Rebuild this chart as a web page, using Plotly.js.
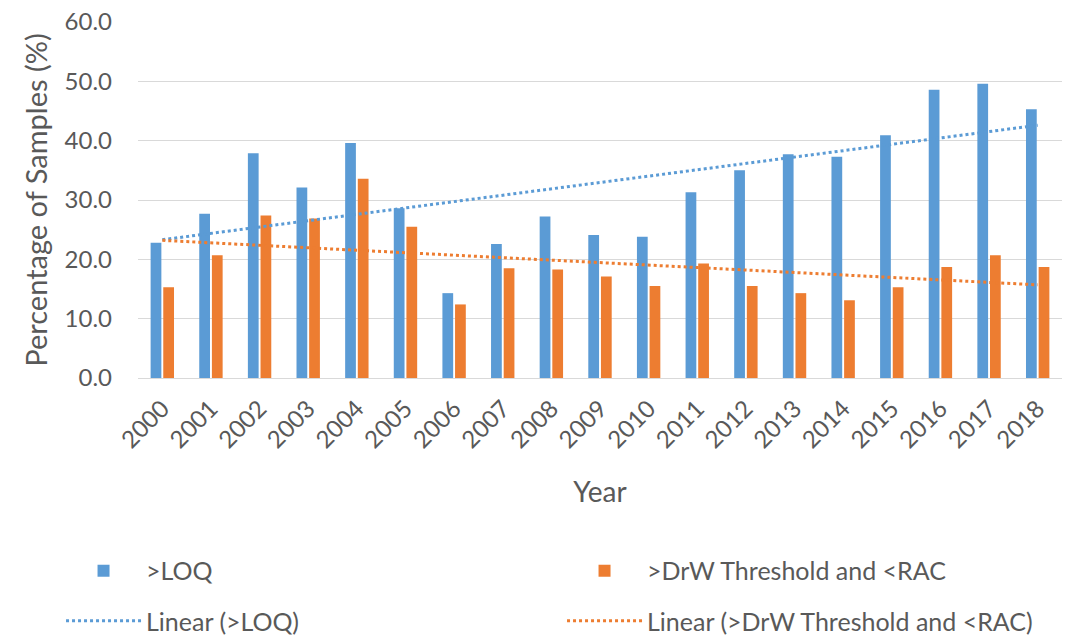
<!DOCTYPE html>
<html>
<head>
<meta charset="utf-8">
<script src="https://cdn.plot.ly/plotly-3.0.1.min.js"></script>
<style>html,body{margin:0;padding:0;background:#fff;}#chart{width:1074px;height:641px;}</style>
</head>
<body>
<div id="chart"></div>
<script>
const years = ['2000','2001','2002','2003','2004','2005','2006','2007','2008','2009','2010','2011','2012','2013','2014','2015','2016','2017','2018'];
const loq = [22.8,27.7,37.9,32.1,39.6,28.6,14.3,22.6,27.2,24.1,23.8,31.3,35.0,37.7,37.3,40.9,48.6,49.6,45.3];
const drw = [15.3,20.7,27.4,26.9,33.6,25.5,12.4,18.5,18.3,17.1,15.5,19.3,15.5,14.3,13.1,15.3,18.7,20.7,18.7];
const trendYears = ['2000','2018'];
const loqTrend = [23.3,42.6];
const drwTrend = [23.2,15.7];
const yTicks = [0,10,20,30,40,50,60];

const fam = 'Lato, "Open Sans", sans-serif';
const grey = '#595959';
const f = (s) => ({family:fam, color:grey, size:s});
const traces = [
  {type:'bar', name:'>LOQ', x:years, y:loq, marker:{color:'#5B9BD5'}, legend:'legend'},
  {type:'bar', name:'>DrW Threshold and <RAC', x:years, y:drw, marker:{color:'#ED7D31'}, legend:'legend'},
  {type:'scatter', mode:'lines', name:'Linear (>LOQ)', x:trendYears, y:loqTrend, line:{color:'#5B9BD5', dash:'dot', width:3}, legend:'legend2'},
  {type:'scatter', mode:'lines', name:'Linear (>DrW Threshold and <RAC)', x:trendYears, y:drwTrend, line:{color:'#ED7D31', dash:'dot', width:3}, legend:'legend2'}
];
const legBase = {orientation:'h', xref:'paper', yref:'paper', x:-0.0833, xanchor:'left', yanchor:'middle',
  entrywidth:411, entrywidthmode:'pixels', font:f(25), traceorder:'normal', itemwidth:75, bgcolor:'rgba(0,0,0,0)'};
const layout = {
  width:1074, height:641,
  margin:{l:138, r:12, t:22, b:263, autoexpand:false},
  paper_bgcolor:'#fff', plot_bgcolor:'#fff',
  font:f(20),
  barmode:'group', bargap:0.48, bargroupgap:0.15,
  xaxis:{type:'category', tickangle:-45, tickfont:f(24), ticklabelstandoff:6,
    showgrid:false, showline:true, linecolor:'#D9D9D9', linewidth:1, ticks:'',
    title:{text:'Year', font:f(28), standoff:30}},
  yaxis:{range:[0,60], tickvals:yTicks, tickformat:'.1f', tickfont:f(24),
    showgrid:true, gridcolor:'#D9D9D9', gridwidth:1, zeroline:false, showline:false, ticks:'', ticklabelstandoff:25,
    title:{text:'Percentage of Samples (%)', font:f(29), standoff:8}},
  showlegend:true,
  legend:Object.assign({}, legBase, {y:-0.5421}),
  legend2:Object.assign({}, legBase, {y:-0.6826})
};
Plotly.newPlot('chart', traces, layout, {displayModeBar:false, staticPlot:true});
</script>
</body>
</html>
